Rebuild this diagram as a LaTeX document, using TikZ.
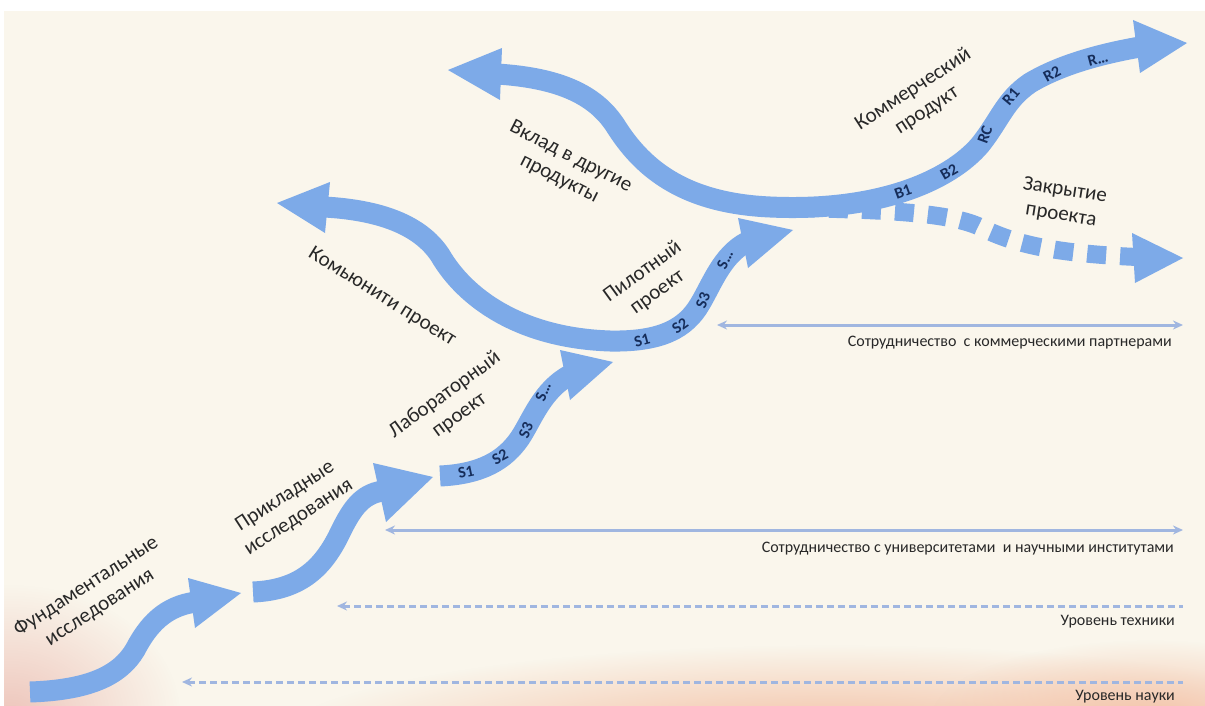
\documentclass[tikz,border=0pt]{standalone}
\usepackage{fontspec}
\setmainfont{Carlito}
\usetikzlibrary{arrows.meta,fadings}
\definecolor{bg}{RGB}{250,246,236}
\definecolor{band}{RGB}{125,170,232}
\definecolor{thin}{RGB}{160,182,224}
\definecolor{navy}{RGB}{22,45,90}
\definecolor{txt}{RGB}{40,40,40}
\definecolor{peach}{RGB}{242,185,155}
\definecolor{pinkish}{RGB}{238,198,188}
\tikzset{thintip/.tip={Stealth[length=10pt,width=9pt]}}
\tikzfading[name=softedge, inner color=transparent!0, outer color=transparent!100]
\begin{document}
\begin{tikzpicture}[x=1pt,y=-1pt,
  bandline/.style={draw=band,line width=21pt},
  headtri/.style={fill=band},
  lbl/.style={font=\fontsize{21}{25}\selectfont, text=txt, align=center, inner sep=0pt},
  tag/.style={font=\fontsize{16}{16}\selectfont\bfseries, text=navy, inner sep=0pt},
  thinline/.style={draw=thin, line width=3pt},
  small/.style={font=\fontsize{16}{16}\selectfont, text=txt, inner sep=0pt, anchor=east},
]
\useasboundingbox (0,0) rectangle (1205,706);
\fill[white] (0,0) rectangle (1205,706);
\fill[bg] (4,11) rectangle (1205,706);
% bottom glow
\begin{scope}
\clip (4,11) rectangle (1205,706);
\fill[peach, path fading=softedge] (830,745) ellipse [x radius=560, y radius=100];
\fill[peach!80!bg, path fading=softedge] (1150,720) ellipse [x radius=220, y radius=80];
\fill[pinkish, path fading=softedge] (10,715) ellipse [x radius=170, y radius=130];
\end{scope}

% thin lines
\draw[thinline, thintip-thintip] (717,325) -- (1183,325);
\draw[thinline, thintip-thintip] (385,530) -- (1183,530);
\draw[thinline, dash pattern=on 7pt off 4pt, thintip-] (337,606) -- (1183,606);
\draw[thinline, dash pattern=on 7pt off 4pt, thintip-] (182,682) -- (1183,682);

\node[small] (komm) at (1172,343) {Сотрудничество~ с коммерческими партнерами};
\node[small] (univ) at (1174,549) {Сотрудничество с университетами~ и научными институтами};
\node[small] (tech) at (1175,622) {Уровень техники};
\node[small] (sci) at (1175,697) {Уровень науки};

% arrow A
\draw[bandline] (30,692) .. controls (90,690) and (120,675) .. (135,650)
  .. controls (148,625) and (165,606) .. (196,602);
\fill[headtri] (188,578) -- (241,593) -- (195,628) -- cycle;

% arrow B
\draw[bandline] (253,592) .. controls (300,590) and (322,568) .. (338,537)
  .. controls (350,512) and (360,494) .. (383,491);
\fill[headtri] (373,463) -- (433,477) -- (386,522) -- cycle;

% arrow C
\draw[bandline] (440,476) .. controls (482,474) and (505,460) .. (520,438)
  .. controls (532,420) and (542,390) .. (570,375);
\fill[headtri] (560,350) -- (613,362) -- (570,400) -- cycle;

% arrow D (pilot, two heads)
\draw[bandline] (324,207) .. controls (380,210) and (420,225) .. (440,255)
  .. controls (465,298) and (520,338) .. (610,341)
  .. controls (662,342) and (686,328) .. (700,304)
  .. controls (712,284) and (722,255) .. (747,242);
\fill[headtri] (330,182) -- (277,203) -- (325,233) -- cycle;
\fill[headtri] (738,218) -- (793,230) -- (748,268) -- cycle;

% arrow F (closing, dashed)
\draw[draw=band, line width=18pt, dash pattern=on 19pt off 14pt, dash phase=4pt]
  (800,208) .. controls (880,210) and (945,212) .. (978,226)
  .. controls (1010,242) and (1045,253) .. (1137,257);
\fill[headtri] (1132,233) -- (1183,258) -- (1135,283) -- cycle;

% arrow E (top)
\draw[bandline] (497,74) .. controls (560,78) and (595,95) .. (615,125)
  .. controls (640,165) and (680,203) .. (770,207)
  .. controls (880,212) and (950,180) .. (980,145)
  .. controls (1000,120) and (1005,100) .. (1030,83)
  .. controls (1060,65) and (1100,54) .. (1140,47);
\fill[headtri] (502,48) -- (448,70) -- (500,100) -- cycle;
\fill[headtri] (1133,20) -- (1187,43) -- (1140,73) -- cycle;

% band tags
\node[tag, rotate=12] (c1) at (466,472) {S1};
\node[tag, rotate=28] (c2) at (500,457) {S2};
\node[tag, rotate=68] (c3) at (526,430) {S3};
\node[tag, rotate=68] (c4) at (543,392) {S…};
\node[tag, rotate=15] (d1) at (642,340) {S1};
\node[tag, rotate=35] (d2) at (680,326) {S2};
\node[tag, rotate=70] (d3) at (703,300) {S3};
\node[tag, rotate=65] (d4) at (725,260) {S…};
\node[tag, rotate=20] (e1) at (903,192) {B1};
\node[tag, rotate=30] (e2) at (949,172) {B2};
\node[tag, rotate=70] (e3) at (985,135) {RC};
\node[tag, rotate=50] (e4) at (1011,97) {R1};
\node[tag, rotate=28] (e5) at (1052,74) {R2};
\node[tag, rotate=15] (e6) at (1098,59) {R…};

% labels
\node[lbl, rotate=33] (fund) at (93,597) {Фундаментальные\\исследования};
\node[lbl, rotate=33] (appl) at (292,507) {Прикладные\\исследования};
\node[lbl, rotate=36] (lab) at (452,405) {Лабораторный\\проект};
\node[lbl, rotate=36] (pilot) at (650,282) {Пилотный\\проект};
\node[lbl, rotate=-32] (comm) at (382,297) {Комьюнити проект};
\node[lbl, rotate=-27] (contr) at (565,168) {Вклад в другие\\продукты};
\node[lbl, rotate=33] (prod) at (920,100) {Коммерческий\\продукт};
\node[lbl, rotate=-9] (close) at (1063,203) {Закрытие\\проекта};
\end{tikzpicture}
\end{document}
